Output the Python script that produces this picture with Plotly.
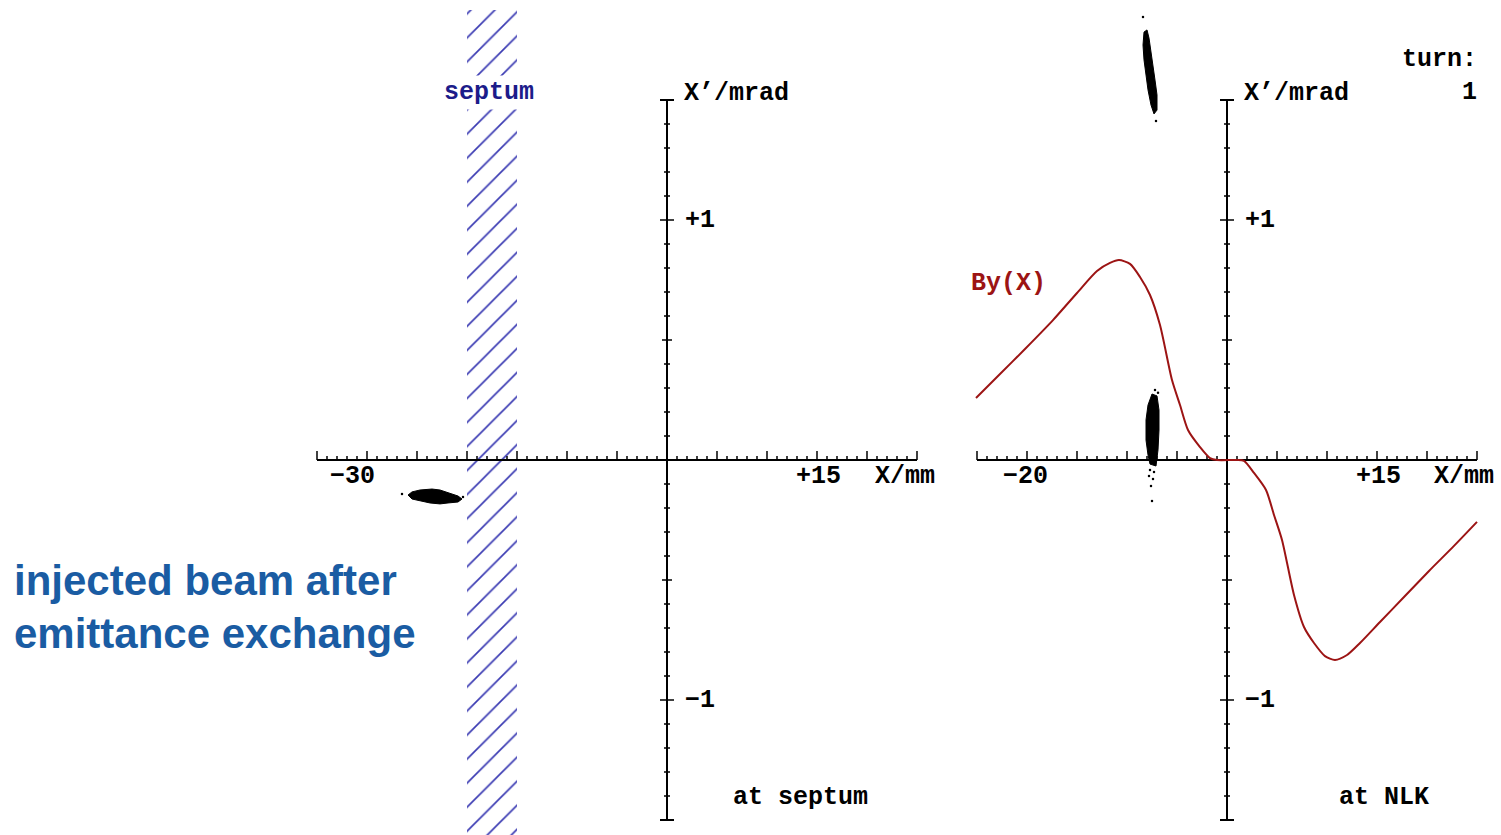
import plotly.graph_objects as go

# ---------------------------------------------------------------------------
# Phase-space data (X in mm, X' in mrad)
# ---------------------------------------------------------------------------

# Injected beam at the septum: outline of the particle cloud plus stray particles
septum_beam_x = [-25.9, -25.5, -24.7, -23.5, -22.7, -21.7, -20.9, -20.5,
                 -20.9, -21.9, -22.7, -23.7, -24.7, -25.5]
septum_beam_xp = [-0.146, -0.133, -0.125, -0.121, -0.125, -0.1375, -0.150, -0.1625,
                  -0.175, -0.179, -0.183, -0.179, -0.171, -0.1625]
septum_stray_x = [-26.5, -20.4]
septum_stray_xp = [-0.142, -0.154]

# Septum blade position (mm)
septum_edges = [-20.0, -15.0]

# Beam at the NLK: the kicked (upper) cloud and the injected (lower) cloud
nlk_upper_x = [-8.3, -8.4, -8.3, -8.1, -7.9, -7.6, -7.3,
               -7.0, -7.0, -7.2, -7.4, -7.6, -7.8, -8.0]
nlk_upper_xp = [1.783, 1.729, 1.667, 1.604, 1.542, 1.479, 1.442,
                1.458, 1.521, 1.583, 1.646, 1.708, 1.758, 1.792]
nlk_upper_stray_x = [-8.4, -7.1]
nlk_upper_stray_xp = [1.846, 1.4125]

nlk_lower_x = [-7.5, -7.9, -8.1, -8.1, -7.9, -7.7, -7.1, -6.9, -6.8, -6.8, -7.0]
nlk_lower_xp = [0.275, 0.229, 0.167, 0.083, 0.021, -0.017, -0.025, 0.042, 0.125, 0.208, 0.267]
nlk_lower_stray_x = [-7.7, -7.3, -7.8, -7.4, -7.6, -7.5, -7.2, -6.9]
nlk_lower_stray_xp = [-0.042, -0.050, -0.067, -0.079, -0.108, -0.171, 0.292, 0.280]

# Field profile of the non-linear kicker, By(X), drawn in the X' frame units
by_x = [-25.1, -22.7, -20.2, -17.4, -15.0, -13.0, -11.7, -10.8, -9.7, -8.7, -7.7,
        -6.7, -5.5, -4.7, -3.9, -2.7, -1.7, -1.0,
        1.0, 1.7, 2.7, 3.9, 4.7, 5.5, 6.7, 7.7, 8.7, 9.8, 10.8, 12.0, 13.3,
        15.3, 17.7, 20.2, 22.7, 25.0]
by_val = [0.258, 0.358, 0.4625, 0.583, 0.696, 0.7875, 0.821, 0.833, 0.817, 0.7625, 0.6875,
          0.5625, 0.333, 0.229, 0.125, 0.054, 0.008, 0.0,
          0.0, -0.004, -0.054, -0.125, -0.229, -0.333, -0.5625, -0.696, -0.7625, -0.817,
          -0.833, -0.8125, -0.7625, -0.675, -0.571, -0.4625, -0.358, -0.258]

# Axis extents and tick labels
left_x_span = [-35, 25]
right_x_span = [-25, 25]
xp_span = [-1.5, 1.5]
left_x_labels = {-30: "−30", 15: "+15"}
right_x_labels = {-20: "−20", 15: "+15"}
xp_labels = {1: "+1", -1: "−1"}

# ---------------------------------------------------------------------------
# Styling
# ---------------------------------------------------------------------------
MONO = "Liberation Mono"
INK = "black"
RED = "#9c1414"
NAVY = "#1c1c8a"
HATCH = "#3b3bb3"
BLUE_TXT = "#1a5ca3"

LEFT_RANGE = [-66.7, 83.4]
RIGHT_RANGE = [-122.7, 27.4]
Y_RANGE = [-1.5625, 1.916667]

fig = go.Figure()


def axis_cross(x_span, xaxis):
    """Axis lines crossing at the origin, with scale ticks drawn as line traces."""
    lx, ly = [], []
    tx, ty = [], []
    # horizontal axis line
    lx += [x_span[0], x_span[1], None]
    ly += [0, 0, None]
    # vertical axis line with end caps
    lx += [0, 0, None]
    ly += [xp_span[0], xp_span[1], None]
    for yc in xp_span:
        lx += [-0.7, 0.7, None]
        ly += [yc, yc, None]
    # mm ticks, pointing upward
    for v in range(x_span[0], x_span[1] + 1):
        h = 0.0375 if v % 5 == 0 else 0.0167
        tx += [v, v, None]
        ty += [0, h, None]
    # 0.1 mrad ticks, crossing the vertical axis
    for k in range(-15, 16):
        v = k / 10
        if abs(v) >= 1.5:
            continue
        w = 0.7 if k % 10 == 0 else (0.5 if k % 5 == 0 else 0.3)
        tx += [-w, w, None]
        ty += [v, v, None]
    fig.add_trace(go.Scatter(x=lx, y=ly, xaxis=xaxis, yaxis="y", mode="lines",
                             line=dict(color=INK, width=2), hoverinfo="skip"))
    fig.add_trace(go.Scatter(x=tx, y=ty, xaxis=xaxis, yaxis="y", mode="lines",
                             line=dict(color=INK, width=1.5), hoverinfo="skip"))


# Septum blade (hatched band)
fig.add_trace(go.Scatter(
    x=[septum_edges[0], septum_edges[1], septum_edges[1], septum_edges[0], septum_edges[0]],
    y=[Y_RANGE[0], Y_RANGE[0], 1.875, 1.875, Y_RANGE[0]],
    xaxis="x", yaxis="y", mode="lines", fill="toself",
    line=dict(width=0, color="rgba(0,0,0,0)"),
    fillcolor="white",
    fillpattern=dict(shape="/", fgcolor=HATCH, fgopacity=1, bgcolor="white",
                     size=17, solidity=0.1, fillmode="replace"),
    hoverinfo="skip",
))

axis_cross(left_x_span, "x")
axis_cross(right_x_span, "x2")


def cloud(xs, ys, xaxis):
    fig.add_trace(go.Scatter(x=xs + xs[:1], y=ys + ys[:1], xaxis=xaxis, yaxis="y",
                             mode="lines", fill="toself", fillcolor=INK,
                             line=dict(color=INK, width=1), hoverinfo="skip"))


def dots(xs, ys, xaxis):
    fig.add_trace(go.Scatter(x=xs, y=ys, xaxis=xaxis, yaxis="y", mode="markers",
                             marker=dict(color=INK, size=2.5), hoverinfo="skip"))


cloud(septum_beam_x, septum_beam_xp, "x")
dots(septum_stray_x, septum_stray_xp, "x")
cloud(nlk_upper_x, nlk_upper_xp, "x2")
dots(nlk_upper_stray_x, nlk_upper_stray_xp, "x2")
cloud(nlk_lower_x, nlk_lower_xp, "x2")
dots(nlk_lower_stray_x, nlk_lower_stray_xp, "x2")

# By(X) field profile
fig.add_trace(go.Scatter(x=by_x, y=by_val, xaxis="x2", yaxis="y", mode="lines",
                         line=dict(color=RED, width=2, shape="spline", smoothing=0.7),
                         hoverinfo="skip"))

# ---------------------------------------------------------------------------
# Text
# ---------------------------------------------------------------------------
annotations = []


def label(text, x, y, xref, color=INK, xanchor="center", size=25, bg=None):
    annotations.append(dict(
        text=f"<b>{text}</b>", x=x, y=y, xref=xref, yref="y",
        xanchor=xanchor, yanchor="middle", showarrow=False,
        font=dict(family=MONO, size=size, color=color),
        bgcolor=bg if bg else "rgba(0,0,0,0)", borderpad=2,
    ))


for xref in ("x", "x2"):
    label("X’/mrad", 1.4, 1.529, xref, xanchor="left")
    for v, t in xp_labels.items():
        label(t, 1.5, v, xref, xanchor="left")
for v, t in left_x_labels.items():
    label(t, v - 1.5 if v < 0 else v + 0.1, -0.0667, "x")
for v, t in right_x_labels.items():
    label(t, v - 0.2 if v < 0 else v + 0.1, -0.0667, "x2")
label("X/mm", 23.8, -0.0667, "x")
label("X/mm", 23.7, -0.0667, "x2")
label("at septum", 13.3, -1.408, "x")
label("at NLK", 15.7, -1.408, "x2")
label("septum", -17.8, 1.533, "x", color=NAVY, bg="white")
label("By(X)", -21.9, 0.7375, "x2", color=RED)
label("turn:", 25.3, 1.667, "x2", xanchor="right")
label("1", 25.3, 1.533, "x2", xanchor="right")

for text, yv in (("injected beam after", -0.504), ("emittance exchange", -0.721)):
    annotations.append(dict(
        text=f"<b>{text}</b>", x=-65.5, y=yv, xref="x", yref="y",
        xanchor="left", yanchor="middle", showarrow=False,
        font=dict(family="Liberation Sans", size=42, color=BLUE_TXT),
    ))

fig.update_layout(
    width=1501, height=835, autosize=False,
    margin=dict(l=0, r=0, t=0, b=0, pad=0),
    paper_bgcolor="white", plot_bgcolor="white",
    showlegend=False,
    xaxis=dict(domain=[0, 1], range=LEFT_RANGE, visible=False, fixedrange=True),
    xaxis2=dict(domain=[0, 1], range=RIGHT_RANGE, visible=False, overlaying="x",
                anchor="y", fixedrange=True),
    yaxis=dict(domain=[0, 1], range=Y_RANGE, visible=False, fixedrange=True),
    annotations=annotations,
)

fig.write_html("out.html", config={"displayModeBar": False},
               post_script="document.body.style.margin='0';")
